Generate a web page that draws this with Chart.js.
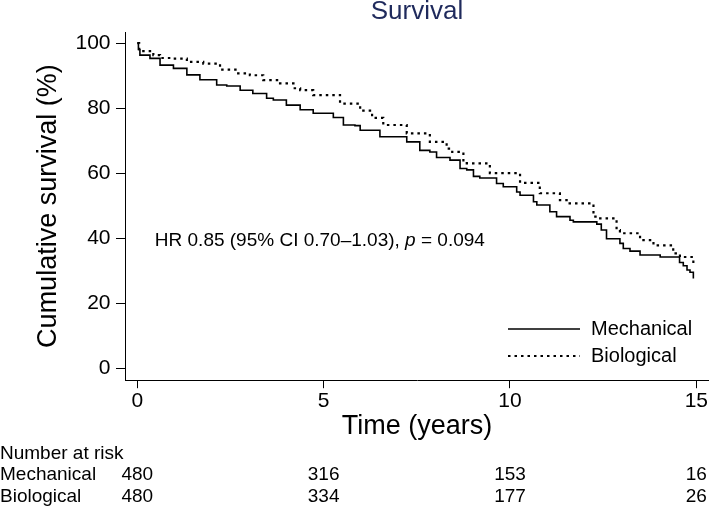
<!DOCTYPE html>
<html>
<head>
<meta charset="utf-8">
<script src="https://cdn.jsdelivr.net/npm/chart.js@4.4.1/dist/chart.umd.min.js"></script>
<style>
  html, body { margin: 0; padding: 0; background: #ffffff; }
  #wrap { width: 709px; height: 509px; }
</style>
</head>
<body>
<div id="wrap"><canvas id="c" width="709" height="509"></canvas></div>
<script>
// ---- data ----
const seriesNames = ['Mechanical', 'Biological'];
const timesMech = [0, 0.03, 0.07, 0.34, 0.61, 0.97, 1.33, 1.68, 2.13, 2.40, 2.76, 3.10, 3.47, 3.65, 4.00, 4.37, 4.72, 5.26, 5.53, 5.84, 5.98, 6.51, 7.23, 7.58, 7.85, 8.03, 8.39, 8.66, 8.84, 9.02, 9.19, 9.64, 9.82, 10.18, 10.27, 10.63, 10.72, 11.07, 11.25, 11.61, 11.70, 12.33, 12.45, 12.59, 12.95, 13.04, 13.22, 13.49, 14.03, 14.55, 14.65, 14.75, 14.83, 14.92];
const survMech  = [100, 98, 96.3, 95.3, 93.2, 92.2, 90.2, 88.7, 87.1, 86.8, 85.5, 84.5, 83.0, 82.5, 80.9, 79.5, 78.4, 77.1, 74.8, 74.6, 73.2, 71.2, 69.6, 67.0, 66.5, 64.8, 64.0, 61.4, 61.0, 59.0, 58.5, 56.8, 55.8, 54.2, 53.2, 51.2, 50.2, 48.1, 46.6, 45.5, 45.0, 44.3, 42.5, 39.8, 38.4, 36.8, 36.0, 34.8, 34.2, 32.5, 31.5, 30.2, 29.5, 27.6];
const timesBio  = [0, 0.05, 0.43, 0.61, 0.97, 1.33, 1.77, 2.22, 2.67, 3.02, 3.38, 3.83, 4.19, 4.37, 4.72, 5.44, 5.98, 6.30, 6.60, 7.23, 7.85, 8.30, 8.45, 8.75, 8.84, 9.46, 10.27, 10.80, 11.34, 11.52, 12.24, 12.33, 12.86, 12.95, 13.49, 13.85, 14.38, 14.56, 14.92];
const survBio   = [100, 97.5, 96.3, 95.4, 95.2, 94.2, 93.7, 91.8, 90.7, 90.1, 88.6, 87.6, 86.1, 85.5, 84.0, 81.4, 79.2, 77.0, 74.8, 72.2, 69.6, 67.5, 66.5, 63.5, 63.0, 60.0, 57.0, 53.8, 51.7, 50.7, 46.6, 46.1, 42.5, 41.5, 39.4, 37.8, 35.3, 34.2, 31.2];
const xTickValues = [0, 5, 10, 15];
const yTickValues = [0, 20, 40, 60, 80, 100];
const riskTimes = [0, 5, 10, 15];
const riskMech  = [480, 316, 153, 16];
const riskBio   = [480, 334, 177, 26];
const riskTitle = 'Number at risk';
const titleText = 'Survival';
const xTitle = 'Time (years)';
const yTitle = 'Cumulative survival (%)';
const annotParts = ['HR 0.85 (95% CI 0.70\u20131.03), ', 'p', ' = 0.094'];

// ---- chart ----
const FONT = '"Liberation Sans", Arial, Helvetica, sans-serif';
const toPts = (ts, ss) => ts.map((t, i) => ({ x: t, y: ss[i] }));

const overlayPlugin = {
  id: 'overlay',
  afterDraw(chart) {
    const ctx = chart.ctx;
    const xs = chart.scales.x, ys = chart.scales.y;
    ctx.save();
    ctx.fillStyle = '#000';
    ctx.textBaseline = 'middle';

    // annotation
    let ax = xs.getPixelForValue(0.47), ay = ys.getPixelForValue(39.2);
    ctx.textAlign = 'left';
    ctx.font = '19px ' + FONT;
    ctx.fillText(annotParts[0], ax, ay);
    ax += ctx.measureText(annotParts[0]).width;
    ctx.font = 'italic 19px ' + FONT;
    ctx.fillText(annotParts[1], ax, ay);
    ax += ctx.measureText(annotParts[1]).width;
    ctx.font = '19px ' + FONT;
    ctx.fillText(annotParts[2], ax, ay);

    // legend
    const ds = chart.data.datasets;
    const lx0 = 508, lx1 = 580, ly = [329, 356];
    ds.forEach((d, i) => {
      ctx.save();
      ctx.strokeStyle = d.borderColor;
      ctx.lineWidth = d.borderWidth;
      ctx.setLineDash(d.borderDash || []);
      ctx.beginPath();
      ctx.moveTo(lx0, ly[i]);
      ctx.lineTo(lx1, ly[i]);
      ctx.stroke();
      ctx.restore();
      ctx.font = '20px ' + FONT;
      ctx.textAlign = 'left';
      ctx.fillText(d.label, 591, ly[i]);
    });

    // number at risk table
    ctx.font = '19px ' + FONT;
    ctx.textAlign = 'left';
    ctx.fillText(riskTitle, 0, 454);
    ctx.fillText(seriesNames[0], 0, 475);
    ctx.fillText(seriesNames[1], 0, 497);
    ctx.textAlign = 'center';
    riskTimes.forEach((t, i) => {
      const px = xs.getPixelForValue(t);
      ctx.fillText(String(riskMech[i]), px, 475);
      ctx.fillText(String(riskBio[i]), px, 497);
    });
    ctx.restore();
  }
};

new Chart(document.getElementById('c'), {
  type: 'line',
  data: {
    datasets: [
      {
        label: seriesNames[0],
        data: toPts(timesMech, survMech),
        stepped: 'before',
        borderColor: '#000',
        borderWidth: 1.6,
        pointRadius: 0,
        fill: false
      },
      {
        label: seriesNames[1],
        data: toPts(timesBio, survBio),
        stepped: 'before',
        borderColor: '#000',
        borderWidth: 2.2,
        borderDash: [2.5, 4],
        pointRadius: 0,
        fill: false
      }
    ]
  },
  options: {
    responsive: false,
    animation: false,
    layout: { padding: { left: 0, right: 0, top: 0, bottom: 66 } },
    plugins: {
      legend: { display: false },
      tooltip: { enabled: false },
      title: {
        display: true,
        text: titleText,
        fullSize: false,
        color: '#1f2a5c',
        font: { family: FONT, size: 26, weight: 'normal', lineHeight: 0.9 },
        padding: { top: 0, bottom: 8.6 }
      }
    },
    scales: {
      x: {
        type: 'linear',
        min: -0.33,
        max: 15.34,
        afterBuildTicks: s => { s.ticks = xTickValues.map(v => ({ value: v })); },
        afterFit: s => { s.height = 62.8; },
        grid: { display: true, drawOnChartArea: false, drawTicks: true, tickLength: 8, color: '#000', lineWidth: 1 },
        border: { display: true, color: '#000', width: 1 },
        ticks: { color: '#000', font: { family: FONT, size: 21 }, padding: 0, autoSkip: false, maxRotation: 0, callback: v => String(v) },
        title: { display: true, text: xTitle, color: '#000', font: { family: FONT, size: 27, lineHeight: 1.2 }, padding: { top: 0, bottom: 0 } }
      },
      y: {
        type: 'linear',
        min: -3.7,
        max: 103.4,
        afterBuildTicks: s => { s.ticks = yTickValues.map(v => ({ value: v })); },
        afterFit: s => { s.width = 125; },
        grid: { display: true, drawOnChartArea: false, drawTicks: true, tickLength: 9, color: '#000', lineWidth: 1 },
        border: { display: true, color: '#000', width: 1 },
        ticks: { color: '#000', font: { family: FONT, size: 21 }, padding: 5.5, callback: v => String(v) },
        title: { display: true, text: yTitle, color: '#000', font: { family: FONT, size: 27, lineHeight: 1.2 }, padding: { top: 32, bottom: 0 } }
      }
    }
  },
  plugins: [overlayPlugin]
});
</script>
</body>
</html>
